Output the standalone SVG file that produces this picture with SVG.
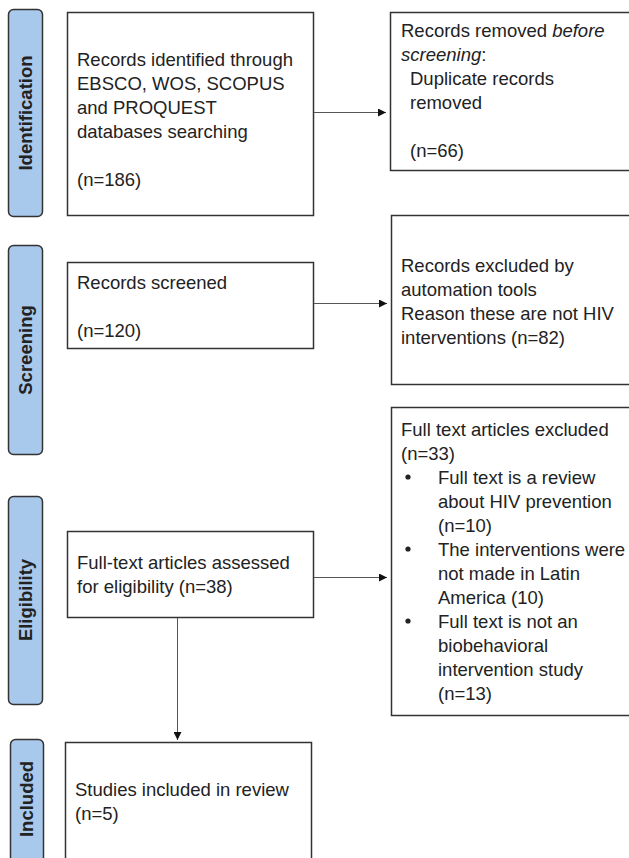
<svg xmlns="http://www.w3.org/2000/svg" width="629" height="858" viewBox="0 0 629 858">
<defs>
<style>
.box{fill:#fff;stroke:#333;stroke-width:1.5}
.lab{fill:#a8c8ec;stroke:#333;stroke-width:1.5}
.t{font-family:"Liberation Sans",Arial,sans-serif;font-size:18.5px;fill:#222}
.lt{font-family:"Liberation Sans",Arial,sans-serif;font-size:18.5px;font-weight:bold;fill:#222;text-anchor:middle}
.c{stroke:#555;stroke-width:1;fill:none}
</style>
<marker id="ah" viewBox="0 0 10 10" refX="10" refY="5" markerWidth="9" markerHeight="8" markerUnits="userSpaceOnUse" orient="auto">
<path d="M0,0 L10,5 L0,10 z" fill="#111"/>
</marker>
</defs>
<rect width="629" height="858" fill="#fff"/>
<g id="label-identification">
<rect class="lab" x="8.5" y="9.5" width="34" height="207" rx="5"/>
<text class="lt" transform="translate(32,113) rotate(-90)">Identification</text>
</g>
<g id="label-screening">
<rect class="lab" x="8.5" y="245.5" width="34" height="209" rx="5"/>
<text class="lt" transform="translate(32,350) rotate(-90)">Screening</text>
</g>
<g id="label-eligibility">
<rect class="lab" x="8.5" y="496.5" width="34" height="208" rx="5"/>
<text class="lt" transform="translate(32,600) rotate(-90)">Eligibility</text>
</g>
<g id="label-included">
<rect class="lab" x="10.5" y="739.5" width="33" height="130" rx="5"/>
<text class="lt" transform="translate(33,799) rotate(-90)">Included</text>
</g>
<g id="identified">
<rect class="box" x="67.5" y="12.5" width="246" height="203"/>
<text class="t" x="77" y="66">Records identified through</text>
<text class="t" x="77" y="90">EBSCO, WOS, SCOPUS</text>
<text class="t" x="77" y="114">and PROQUEST</text>
<text class="t" x="77" y="138">databases searching</text>
<text class="t" x="77" y="186">(n=186)</text>
</g>
<g id="removed">
<rect class="box" x="390.5" y="12.5" width="250" height="158"/>
<text class="t" x="401" y="37">Records removed <tspan font-style="italic">before</tspan></text>
<text class="t" x="401" y="61"><tspan font-style="italic">screening</tspan>:</text>
<text class="t" x="410" y="85">Duplicate records</text>
<text class="t" x="410" y="109">removed</text>
<text class="t" x="410" y="157">(n=66)</text>
</g>
<g id="screened">
<rect class="box" x="67.5" y="262.5" width="246" height="86"/>
<text class="t" x="77" y="289">Records screened</text>
<text class="t" x="77" y="337">(n=120)</text>
</g>
<g id="excluded-auto">
<rect class="box" x="391.5" y="215.5" width="250" height="169"/>
<text class="t" x="401" y="272">Records excluded by</text>
<text class="t" x="401" y="296">automation tools</text>
<text class="t" x="401" y="320">Reason these are not HIV</text>
<text class="t" x="401" y="344">interventions (n=82)</text>
</g>
<g id="assessed">
<rect class="box" x="67.5" y="531.5" width="246" height="86"/>
<text class="t" x="77" y="569">Full-text articles assessed</text>
<text class="t" x="77" y="593">for eligibility (n=38)</text>
</g>
<g id="excluded-full">
<rect class="box" x="391.5" y="407.5" width="250" height="308"/>
<text class="t" x="401" y="436">Full text articles excluded</text>
<text class="t" x="401" y="460">(n=33)</text>
<circle cx="408" cy="477" r="2.6" fill="#222"/>
<text class="t" x="438" y="484">Full text is a review</text>
<text class="t" x="438" y="508">about HIV prevention</text>
<text class="t" x="438" y="532">(n=10)</text>
<circle cx="408" cy="549" r="2.6" fill="#222"/>
<text class="t" x="438" y="556">The interventions were</text>
<text class="t" x="438" y="580">not made in Latin</text>
<text class="t" x="438" y="604">America (10)</text>
<circle cx="408" cy="621" r="2.6" fill="#222"/>
<text class="t" x="438" y="628">Full text is not an</text>
<text class="t" x="438" y="652">biobehavioral</text>
<text class="t" x="438" y="676">intervention study</text>
<text class="t" x="438" y="700">(n=13)</text>
</g>
<g id="included">
<rect class="box" x="65.5" y="742.5" width="246" height="130"/>
<text class="t" x="75" y="796">Studies included in review</text>
<text class="t" x="75" y="820">(n=5)</text>
</g>
<g id="connectors">
<line class="c" x1="314" y1="112.5" x2="386" y2="112.5" marker-end="url(#ah)"/>
<line class="c" x1="314" y1="303.5" x2="387" y2="303.5" marker-end="url(#ah)"/>
<line class="c" x1="314" y1="577.5" x2="387" y2="577.5" marker-end="url(#ah)"/>
<line class="c" x1="177.5" y1="618" x2="177.5" y2="740" marker-end="url(#ah)"/>
</g>
</svg>
